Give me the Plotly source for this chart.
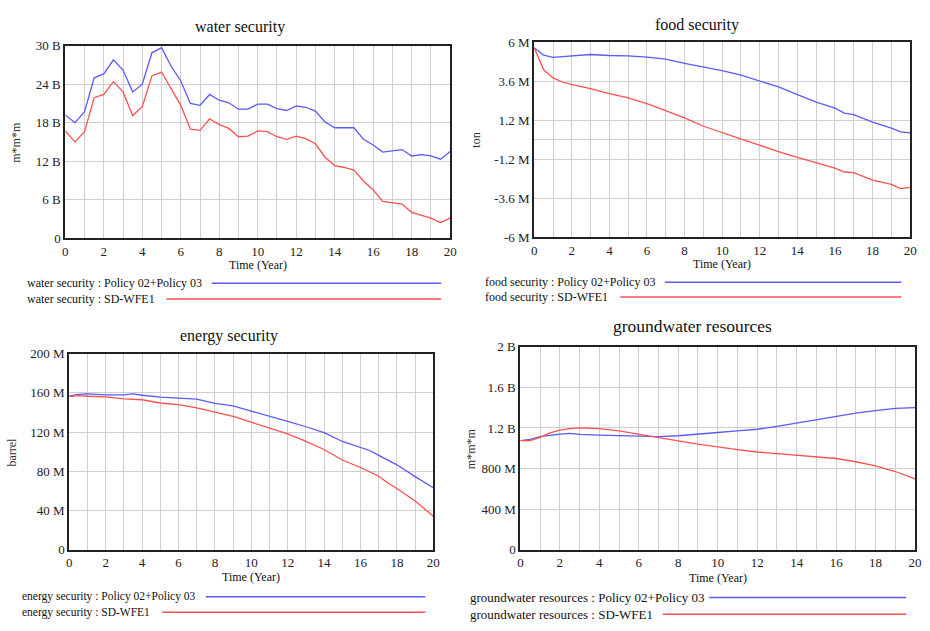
import plotly.graph_objects as go

FONT = "Liberation Serif, Times New Roman, serif"
BLUE = "rgb(90,90,255)"
RED = "rgb(255,80,80)"

scen_a = "Policy 02+Policy 03"
scen_b = "SD-WFE1"

# ---------- water security (B m*m*m) ----------
water_t = [i * 0.5 for i in range(41)]
water_a = [19.2, 18.0, 19.7, 25.0, 25.6, 27.8, 26.2, 22.8, 24.0, 28.9, 29.7, 26.8, 24.5, 21.0, 20.7,
           22.4, 21.5, 21.1, 20.1, 20.1, 20.9, 20.9, 20.2, 19.9, 20.6, 20.4, 19.8, 18.1, 17.2, 17.2,
           17.2, 15.4, 14.5, 13.4, 13.6, 13.8, 12.8, 13.0, 12.8, 12.3, 13.5]
water_b = [16.7, 15.0, 16.6, 21.9, 22.4, 24.4, 22.8, 19.1, 20.5, 25.3, 25.9, 23.2, 20.7, 17.0, 16.8,
           18.6, 17.7, 17.1, 15.8, 15.9, 16.7, 16.6, 15.8, 15.4, 15.9, 15.5, 14.7, 12.6, 11.3, 11.0,
           10.6, 8.9, 7.5, 5.7, 5.5, 5.3, 4.0, 3.6, 3.1, 2.4, 3.1]

# ---------- food security (M ton) ----------
food_t_a = [0, 0.5, 1, 1.5, 2, 2.5, 3, 4, 5, 6, 7, 8, 9, 10, 11, 12, 13, 14, 15, 16, 16.5, 17, 18, 19, 19.5, 20]
food_a = [5.65, 5.2, 5.06, 5.1, 5.16, 5.2, 5.24, 5.18, 5.16, 5.08, 4.95, 4.7, 4.47, 4.25, 3.97, 3.59,
          3.25, 2.78, 2.32, 1.94, 1.64, 1.54, 1.08, 0.71, 0.49, 0.43]
food_t_b = [0, 0.25, 0.5, 1, 1.5, 2, 3, 4, 5, 6, 7, 8, 9, 10, 11, 12, 13, 14, 15, 16, 16.5, 17, 18, 19, 19.5, 20]
food_b = [5.65, 4.95, 4.3, 3.8, 3.55, 3.39, 3.15, 2.84, 2.58, 2.22, 1.78, 1.34, 0.83, 0.43, 0.03, -0.37,
          -0.73, -1.08, -1.42, -1.74, -1.98, -2.02, -2.48, -2.74, -3.0, -2.92]

# ---------- energy security (M barrel) ----------
energy_t_a = [0, 0.5, 1, 2, 3, 3.5, 4, 5, 6, 7, 8, 9, 10, 11, 12, 13, 14, 15, 16, 16.5, 17, 18, 19, 20]
energy_a = [156.9, 158.5, 158.9, 157.9, 157.9, 158.9, 157.5, 155.6, 154.6, 153.6, 149.3, 146.6, 141.3,
            136.3, 131.0, 125.4, 119.4, 110.4, 104.5, 101.2, 96.2, 86.6, 74.6, 63.3]
energy_t_b = [0, 0.5, 1, 2, 3, 4, 5, 6, 7, 8, 9, 10, 11, 12, 13, 14, 15, 16, 17, 17.5, 18, 19, 20]
energy_b = [156.2, 157.2, 156.5, 155.9, 153.9, 152.9, 149.6, 147.9, 144.6, 140.3, 136.0, 130.0, 124.4,
            118.1, 110.4, 102.2, 91.5, 83.9, 75.0, 68.0, 62.4, 49.8, 34.2]

# ---------- groundwater resources (B m*m*m) ----------
gw_t_a = [0, 0.5, 1, 1.5, 2, 2.5, 3, 4, 5, 6, 7, 8, 9, 10, 11, 12, 13, 14, 15, 16, 17, 18, 19, 20]
gw_a = [1.075, 1.088, 1.114, 1.13, 1.14, 1.146, 1.136, 1.13, 1.123, 1.114, 1.114, 1.123, 1.136, 1.155,
        1.171, 1.187, 1.216, 1.248, 1.28, 1.318, 1.347, 1.37, 1.392, 1.40]
gw_t_b = [0, 0.5, 1, 1.5, 2, 2.5, 3, 3.5, 4, 5, 6, 7, 8, 9, 10, 11, 12, 13, 14, 15, 16, 17, 18, 19, 20]
gw_b = [1.075, 1.075, 1.107, 1.152, 1.178, 1.194, 1.2, 1.2, 1.194, 1.171, 1.136, 1.104, 1.072, 1.04,
        1.011, 0.986, 0.963, 0.947, 0.931, 0.922, 0.899, 0.867, 0.826, 0.771, 0.698]

x_ticks = list(range(21))
x_text = [str(i) if i % 2 == 0 else "" for i in x_ticks]

panels = [
    dict(name="water security", unit="m*m*m", ta=water_t, a=water_a, tb=water_t, b=water_b,
         yt=[0, 6, 12, 18, 24, 30], ytxt=["0", "6 B", "12 B", "18 B", "24 B", "30 B"], yr=[0, 30],
         dx=[63, 452], dy=[39.7, 236.6], title_xy=(240, 20), title_size=16, xlab_y=264, ylab_x=13,
         leg_x=22, leg_y=[283, 299], leg_start=[211, 165], leg_end=443, leg_size=12),
    dict(name="food security", unit="ton", ta=food_t_a, a=food_a, tb=food_t_b, b=food_b,
         yt=[-6, -3.6, -1.2, 0, 1.2, 3.6, 6], ytxt=["-6 M", "-3.6 M", "-1.2 M", "", "1.2 M", "3.6 M", "6 M"],
         yr=[-6, 6], dx=[537, 917], dy=[36, 236], title_xy=(702, 18), title_size=16, xlab_y=263, ylab_x=478,
         leg_x=485, leg_y=[282, 297], leg_start=[669, 624], leg_end=908, leg_size=12),
    dict(name="energy security", unit="barrel", ta=energy_t_a, a=energy_a, tb=energy_t_b, b=energy_b,
         yt=[0, 40, 80, 120, 160, 200], ytxt=["0", "40 M", "80 M", "120 M", "160 M", "200 M"], yr=[0, 200],
         dx=[67, 435], dy=[355, 556], title_xy=(228, 337), title_size=16, xlab_y=584, ylab_x=9,
         leg_x=17, leg_y=[604, 620], leg_start=[205, 161], leg_end=427, leg_size=11.5),
    dict(name="groundwater resources", unit="m*m*m", ta=gw_t_a, a=gw_a, tb=gw_t_b, b=gw_b,
         yt=[0, 0.4, 0.8, 1.2, 1.6, 2.0], ytxt=["0", "400 M", "800 M", "1.2 B", "1.6 B", "2 B"], yr=[0, 2],
         dx=[523, 922], dy=[348, 556], title_xy=(697, 327), title_size=17.5, xlab_y=585, ylab_x=473,
         leg_x=470, leg_y=[605, 622], leg_start=[714, 667], leg_end=913, leg_size=13),
]

W, H = 930, 631
fig = go.Figure()
annotations = []
shapes = []

for i, p in enumerate(panels):
    n = "" if i == 0 else str(i + 1)
    xa, ya = "x" + n, "y" + n
    fig.add_trace(go.Scatter(x=p["ta"], y=p["a"], mode="lines", line=dict(color=BLUE, width=1.3),
                             xaxis=xa, yaxis=ya, showlegend=False, name=p["name"] + " : " + scen_a))
    fig.add_trace(go.Scatter(x=p["tb"], y=p["b"], mode="lines", line=dict(color=RED, width=1.3),
                             xaxis=xa, yaxis=ya, showlegend=False, name=p["name"] + " : " + scen_b))
    dom_x = [p["dx"][0] / W, p["dx"][1] / W]
    dom_y = [1 - p["dy"][1] / H, 1 - p["dy"][0] / H]
    fig.update_layout(**{
        "xaxis" + n: dict(domain=dom_x, anchor=ya, range=[0, 20], tickvals=x_ticks, ticktext=x_text,
                          showgrid=True, gridcolor="#cfcfcf", gridwidth=1, showline=True, mirror=True,
                          linecolor="#222", linewidth=2, ticks="", zeroline=False,
                          tickfont=dict(family=FONT, size=13, color="#222")),
        "yaxis" + n: dict(domain=dom_y, anchor=xa, range=p["yr"], tickvals=p["yt"], ticktext=p["ytxt"],
                          showgrid=True, gridcolor="#cfcfcf", gridwidth=1, showline=True, mirror=True,
                          linecolor="#222", linewidth=2, ticks="", zeroline=False,
                          tickfont=dict(family=FONT, size=13, color="#222")),
    })
    annotations.append(dict(text=p["name"], x=p["title_xy"][0] / W, y=1 - p["title_xy"][1] / H,
                            xref="paper", yref="paper", showarrow=False, xanchor="center", yanchor="middle",
                            font=dict(family=FONT, size=p["title_size"], color="#111")))
    annotations.append(dict(text="Time (Year)", x=(p["dx"][0] + p["dx"][1]) / 2 / W, y=1 - p["xlab_y"] / H,
                            xref="paper", yref="paper", showarrow=False, xanchor="center", yanchor="middle",
                            font=dict(family=FONT, size=12, color="#111")))
    annotations.append(dict(text=p["unit"], x=p["ylab_x"] / W, y=1 - (p["dy"][0] + p["dy"][1]) / 2 / H,
                            xref="paper", yref="paper", showarrow=False, textangle=-90,
                            xanchor="center", yanchor="middle",
                            font=dict(family=FONT, size=12, color="#333")))
    for j, (scen, col) in enumerate([(scen_a, BLUE), (scen_b, RED)]):
        txt = p["name"] + " : " + scen
        ly = 1 - p["leg_y"][j] / H
        annotations.append(dict(text=txt, x=p["leg_x"] / W, y=ly, xref="paper", yref="paper",
                                showarrow=False, xanchor="left", yanchor="middle",
                                font=dict(family=FONT, size=p["leg_size"], color="#111")))
        shapes.append(dict(type="line", xref="paper", yref="paper",
                           x0=p["leg_start"][j] / W, x1=p["leg_end"] / W, y0=ly, y1=ly,
                           line=dict(color=col, width=1.5)))

fig.update_layout(width=W, height=H, margin=dict(l=0, r=0, t=0, b=0),
                  paper_bgcolor="white", plot_bgcolor="white",
                  annotations=annotations, shapes=shapes, showlegend=False)

fig.write_html("out.html")
